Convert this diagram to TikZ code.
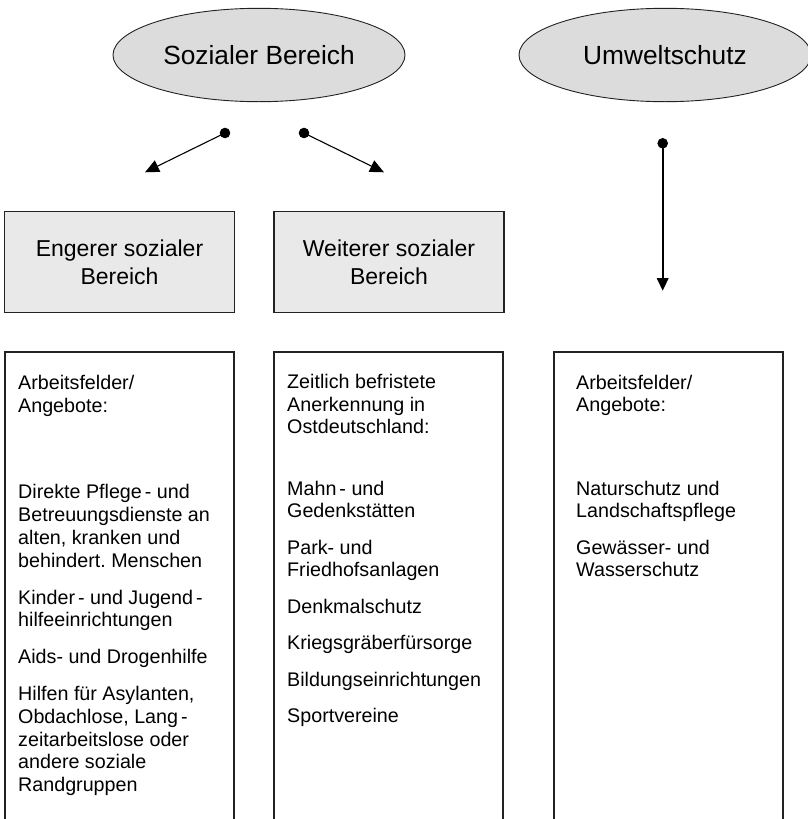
\documentclass[tikz,border=0pt]{standalone}
\usepackage{fontspec}
\setmainfont{Liberation Sans}
\usetikzlibrary{arrows.meta,shapes.geometric}
\definecolor{ovalfill}{HTML}{DCDCDC}
\definecolor{boxfill}{HTML}{E9E9E9}
\definecolor{edge}{HTML}{222222}
\frenchspacing
% hyphen set slightly apart from its word
\newcommand{\gaphy}{\kern3pt-}
\begin{document}
\begin{tikzpicture}[x=1pt,y=-1pt,
  oval/.style={ellipse,draw=edge,line width=0.9pt,fill=ovalfill,inner sep=0pt,
    minimum width=292pt,minimum height=93.4pt,font=\fontsize{26.3}{30}\selectfont},
  headbox/.style={rectangle,draw=edge,line width=1.1pt,fill=boxfill,inner sep=0pt,
    minimum width=230pt,minimum height=100.6pt,align=center,
    font=\fontsize{23}{27.6}\selectfont},
  column/.style={draw=edge,line width=1.1pt},
  listtext/.style={anchor=base west,inner sep=0pt,font=\fontsize{19.7}{22.7}\selectfont},
  link/.style={draw=black,line width=1.1pt,-{Triangle[length=14pt,width=12.5pt]}},
  vlink/.style={draw=black,line width=1.6pt,-{Triangle[length=12.5pt,width=11.5pt]}},
  dot/.style={fill=black}]
\useasboundingbox (0,0) rectangle (807,819);

% top level ovals
\node[oval] (sozial) at (259,55) {Sozialer Bereich};
\node[oval] (umwelt) at (665,55) {Umweltschutz};

% second level boxes
\node[headbox] (enger)  at (119.5,262) {Engerer sozialer\\Bereich};
\node[headbox] (weiter) at (389,262)   {Weiterer sozialer\\Bereich};

% connectors with round start dots
\coordinate (dl) at (225,133);  \coordinate (tl) at (145,172.3);
\coordinate (dr) at (304,133);  \coordinate (tr) at (384,172.3);
\coordinate (du) at (662.7,143.3); \coordinate (tu) at (662.7,290.7);
\draw[link] (dl) -- (tl);
\draw[link] (dr) -- (tr);
\draw[vlink] (du) -- (tu);
\fill[dot] (dl) circle (5.3pt);
\fill[dot] (dr) circle (5.3pt);
\fill[dot] (du) circle (5.3pt);

% open columns running off the lower edge
\draw[column] (5,830)   |- (234,352) -- (234,830);
\draw[column] (274,830) |- (503,352) -- (503,830);
\draw[column] (554,830) |- (783,352) -- (783,830);

% column contents
\node[listtext] (engerlist) at (18,389.5) {\parbox[t]{214pt}{%
  Arbeitsfelder/\\Angebote:\\[64pt]%
  Direkte Pflege\gaphy{} und\\Betreuungsdienste an\\alten, kranken und\\behindert. Menschen\\[14.3pt]%
  Kinder\gaphy{} und Jugend\gaphy\\hilfeeinrichtungen\\[14.3pt]%
  Aids- und Drogenhilfe\\[14.3pt]%
  Hilfen für Asylanten,\\Obdachlose, Lang\gaphy\\zeitarbeitslose oder\\andere soziale\\Randgruppen}};

\node[listtext] (weiterlist) at (287,388.5) {\parbox[t]{214pt}{%
  Zeitlich befristete\\Anerkennung in\\Ostdeutschland:\\[38.5pt]%
  Mahn\gaphy{} und\\Gedenkstätten\\[13.7pt]%
  Park- und\\Friedhofsanlagen\\[13.7pt]%
  Denkmalschutz\\[13.7pt]%
  Kriegsgräberfürsorge\\[13.7pt]%
  Bildungseinrichtungen\\[13.7pt]%
  Sportvereine}};

\node[listtext] (umweltlist) at (576,389) {\parbox[t]{205pt}{%
  Arbeitsfelder/\\Angebote:\\[60.6pt]%
  Naturschutz und\\Landschaftspflege\\[13.7pt]%
  Gewässer- und\\Wasserschutz}};
\end{tikzpicture}
\end{document}
